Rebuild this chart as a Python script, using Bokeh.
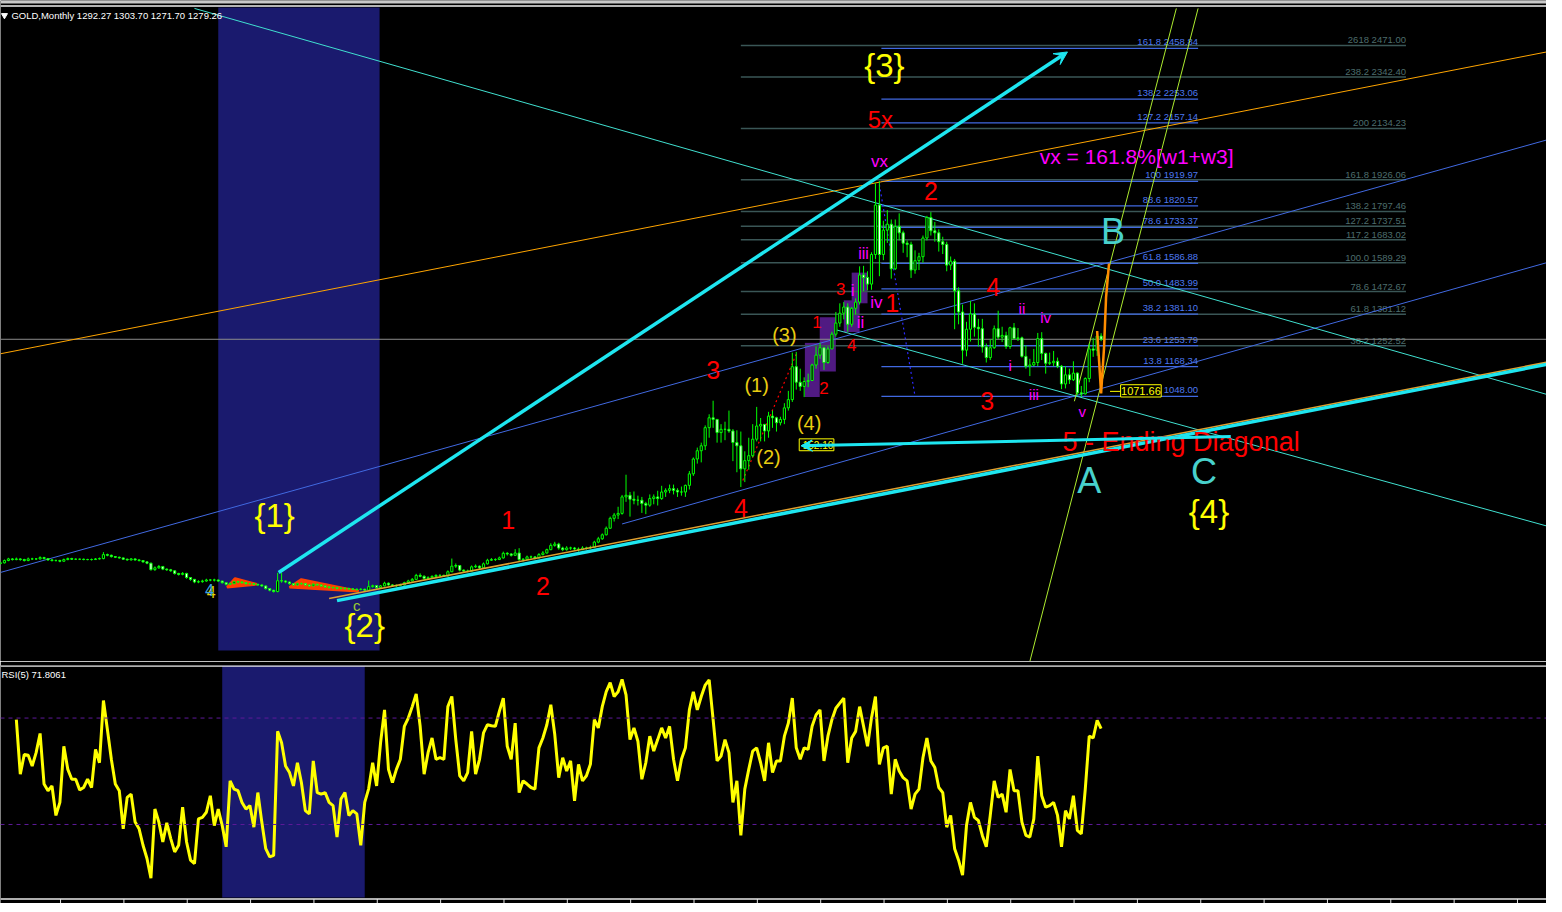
from bokeh.plotting import figure
from bokeh.models import Range1d, ColumnDataSource, Arrow, VeeHead, Span
from bokeh.layouts import column
from bokeh.embed import file_html
from bokeh.resources import INLINE
from bokeh.core.properties import value, field

# ---------------- data ----------------
first_open = 370.0
closes = [
    372.5, 381.9, 388.5, 385.9, 388.5, 385.9, 381.9, 388.5, 388.5, 388.5,
    393.9, 389.9, 384.5, 381.9, 381.9, 379.2, 385.9, 389.9, 387.2, 387.2,
    387.2, 385.9, 385.9, 385.9, 388.5, 389.9, 406.0, 403.3, 397.9, 395.2,
    392.6, 387.2, 384.5, 388.5, 384.5, 381.9, 376.5, 371.2, 345.0, 352.4,
    357.8, 347.1, 344.4, 340.4, 329.7, 325.7, 329.7, 313.0, 305.6, 294.9,
    296.2, 298.9, 302.9, 302.9, 302.9, 298.9, 292.2, 285.5, 288.2, 296.2,
    294.9, 292.2, 288.2, 288.2, 285.5, 282.9, 278.9, 268.2, 261.5, 256.1,
    300.0, 298.9, 294.9, 288.2, 282.9, 288.0, 288.2, 282.8, 278.8, 285.5,
    282.8, 278.8, 274.8, 272.1, 272.1, 269.5, 269.5, 268.1, 266.8, 265.5,
    264.1, 265.5, 261.5, 276.0, 280.0, 272.1, 279.0, 290.0, 283.0, 278.8,
    281.0, 282.8, 292.2, 298.9, 305.6, 321.7, 318.0, 309.6, 312.3, 317.6,
    321.7, 321.7, 319.0, 336.4, 359.1, 361.8, 343.1, 339.0, 339.0, 356.4,
    359.1, 352.4, 368.5, 383.2, 385.9, 385.9, 392.5, 411.3, 408.6, 403.2,
    412.6, 385.9, 387.2, 396.6, 396.6, 392.5, 405.9, 412.6, 426.0, 443.4,
    448.7, 432.7, 426.0, 432.7, 432.7, 428.7, 426.0, 432.7, 432.7, 435.3,
    456.7, 470.1, 486.2, 512.9, 553.1, 566.4, 573.1, 640.0, 646.6, 630.5,
    626.5, 626.5, 613.1, 606.4, 633.2, 639.9, 633.2, 659.9, 666.6, 673.3,
    666.6, 659.9, 659.9, 686.7, 733.5, 793.7, 827.2, 847.2, 920.8, 960.9,
    954.3, 900.8, 914.1, 914.1, 907.4, 860.6, 847.2, 753.6, 787.0, 807.1,
    874.0, 927.5, 934.2, 907.4, 967.6, 960.9, 940.9, 954.3, 1001.1, 1034.5,
    1168.0, 1105.0, 1088.0, 1108.0, 1112.0, 1175.0, 1215.0, 1245.0, 1185.0, 1240.0,
    1300.0, 1345.0, 1385.0, 1410.0, 1340.0, 1405.0, 1430.0, 1540.0, 1530.0, 1503.0,
    1623.0, 1823.7, 1623.1, 1722.0, 1746.0, 1565.0, 1737.0, 1711.0, 1669.0, 1664.0,
    1560.0, 1598.0, 1614.0, 1690.0, 1773.0, 1719.0, 1711.0, 1675.0, 1664.0, 1580.0,
    1596.0, 1476.0, 1390.0, 1235.0, 1320.0, 1382.0, 1328.0, 1322.0, 1248.0, 1205.0,
    1245.0, 1322.0, 1288.0, 1295.0, 1250.0, 1326.0, 1282.0, 1285.0, 1210.0, 1170.0,
    1175.0, 1185.0, 1282.0, 1222.0, 1182.0, 1184.0, 1190.0, 1170.0, 1098.0, 1135.0,
    1115.0, 1142.0, 1062.0, 1058.0, 1120.0, 1240.0, 1235.0, 1292.27, 1279.26,
]
highs = [
    378, 386, 393, 392, 394, 391, 389, 394, 393, 392,
    399, 397, 392, 388, 386, 385, 390, 394, 393, 391,
    390, 390, 389, 390, 392, 394, 416, 410, 406, 400,
    398, 394, 390, 392, 391, 387, 384, 378, 373, 358,
    364, 360, 350, 348, 342, 332, 335, 332, 315, 307,
    302, 304, 308, 307, 308, 305, 300, 294, 293, 300,
    300, 298, 294, 292, 291, 288, 285, 280, 270, 263,
    332, 332, 302, 297, 290, 292, 293, 290, 285, 290,
    288, 285, 281, 278, 276, 275, 273, 273, 272, 270,
    269, 270, 268, 301, 284, 282, 283, 296, 293, 286,
    285, 288, 296, 304, 311, 328, 330, 322, 318, 322,
    326, 326, 325, 342, 390, 370, 363, 346, 345, 362,
    366, 362, 374, 389, 392, 391, 398, 418, 416, 412,
    428, 432, 392, 402, 402, 400, 412, 420, 430, 452,
    458, 454, 438, 440, 438, 437, 435, 440, 438, 442,
    462, 478, 492, 520, 560, 575, 600, 648, 730, 660,
    662, 645, 640, 620, 650, 650, 665, 685, 675, 690,
    690, 675, 682, 690, 745, 800, 840, 860, 930, 975,
    1030, 955, 935, 945, 990, 915, 910, 905, 825, 880,
    935, 1005, 960, 930, 985, 990, 965, 965, 1020, 1070,
    1225, 1228, 1160, 1125, 1140, 1180, 1250, 1265, 1240, 1250,
    1310, 1390, 1425, 1430, 1425, 1410, 1445, 1575, 1577, 1555,
    1632, 1912, 1920.8, 1760, 1803, 1765, 1765, 1790, 1720, 1680,
    1675, 1640, 1630, 1700, 1780, 1795, 1755, 1725, 1695, 1675,
    1615, 1605, 1490, 1420, 1350, 1435, 1425, 1362, 1362, 1262,
    1280, 1335, 1395, 1330, 1310, 1330, 1345, 1325, 1290, 1255,
    1200, 1240, 1305, 1308, 1225, 1225, 1232, 1205, 1175, 1170,
    1160, 1190, 1145, 1090, 1125, 1262, 1285, 1305, 1303.7,
]
lows = [
    365, 370, 379, 382, 383, 381, 378, 379, 384, 384,
    386, 386, 381, 378, 378, 375, 377, 383, 384, 384,
    384, 383, 383, 382, 384, 386, 387, 399, 394, 392,
    389, 384, 381, 382, 381, 378, 373, 367, 341, 340,
    348, 343, 340, 336, 325, 321, 322, 308, 300, 290,
    290, 292, 296, 298, 297, 295, 288, 281, 283, 286,
    290, 288, 284, 284, 282, 279, 275, 264, 257, 252,
    253, 292, 290, 284, 279, 280, 284, 279, 275, 277,
    279, 275, 271, 268, 268, 265, 265, 264, 263, 262,
    260, 261, 256, 260, 272, 268, 270, 277, 280, 275,
    275, 278, 281, 290, 297, 304, 314, 305, 306, 310,
    315, 317, 315, 318, 335, 352, 338, 334, 334, 337,
    352, 347, 350, 366, 380, 380, 384, 390, 402, 398,
    400, 380, 378, 384, 390, 386, 390, 403, 410, 424,
    438, 426, 420, 422, 425, 424, 418, 424, 426, 428,
    432, 452, 466, 484, 510, 540, 550, 568, 620, 560,
    610, 605, 575, 570, 600, 610, 605, 628, 640, 655,
    650, 640, 645, 640, 670, 725, 775, 780, 830, 880,
    920, 860, 860, 870, 900, 785, 740, 680, 700, 750,
    800, 865, 865, 865, 880, 920, 905, 930, 935, 990,
    1025, 1075, 1070, 1045, 1085, 1110, 1160, 1200, 1155, 1180,
    1240, 1290, 1330, 1360, 1310, 1330, 1380, 1420, 1475, 1478,
    1480, 1605, 1535, 1600, 1670, 1525, 1560, 1680, 1630, 1612,
    1528, 1545, 1560, 1590, 1680, 1700, 1675, 1635, 1625, 1555,
    1560, 1320, 1340, 1180, 1210, 1270, 1290, 1250, 1225, 1185,
    1195, 1240, 1280, 1268, 1240, 1240, 1280, 1272, 1205, 1160,
    1130, 1170, 1170, 1195, 1140, 1175, 1170, 1162, 1077, 1080,
    1098, 1110, 1052, 1045, 1055, 1105, 1208, 1212, 1271.7,
]
NA = float("nan")
rsi5 = [NA, NA, NA, NA, 69.4,
    48.9, 56.3, 56.0, 52.0, 57.0, 64.2, 45.2, 42.7, 44.5, 33.4,
    38.3, 59.4, 50.7, 47.0, 47.0, 43.0, 43.9, 47.0, 43.9, 58.2,
    53.2, 76.6, 65.7, 54.5, 45.2, 42.7, 28.4, 40.2, 41.4, 30.9,
    28.4, 22.2, 17.2, 9.8, 35.8, 30.9, 23.4, 30.6, 24.7, 19.7,
    22.2, 36.5, 23.4, 16.6, 15.3, 32.1, 32.7, 34.6, 40.8, 29.6,
    35.8, 29.6, 21.6, 46.4, 43.3, 42.7, 38.3, 35.8, 37.1, 29.0,
    42.0, 30.9, 20.9, 17.8, 18.4, 65.0, 60.7, 52.0, 49.5, 44.5,
    53.2, 45.8, 35.2, 34.0, 53.9, 42.0, 41.4, 42.0, 38.3, 37.1,
    25.3, 39.6, 42.0, 33.4, 35.2, 34.0, 22.2, 38.3, 43.5, 53.2,
    44.5, 60.7, 73.1, 50.7, 45.8, 50.7, 54.5, 66.9, 70.0, 74.3,
    79.1, 66.9, 48.9, 57.0, 62.5, 54.5, 55.1, 54.5, 74.3, 78.1,
    61.9, 48.3, 46.4, 49.5, 65.0, 48.9, 54.5, 64.4, 67.5, 67.1,
    66.9, 72.5, 77.5, 59.4, 54.5, 68.1, 42.0, 46.4, 45.2, 43.9,
    43.3, 58.8, 62.5, 67.5, 75.0, 63.8, 47.6, 55.1, 50.1, 53.9,
    38.9, 52.6, 46.4, 48.3, 52.6, 69.4, 66.3, 74.3, 79.9, 83.3,
    78.1, 79.9, 84.5, 78.7, 61.9, 66.3, 61.3, 47.0, 53.2, 63.2,
    57.6, 61.9, 66.3, 62.5, 66.9, 54.5, 46.4, 54.5, 58.8, 73.1,
    79.9, 73.1, 78.1, 82.4, 84.3, 69.4, 53.9, 55.7, 61.9, 57.0,
    38.3, 46.4, 25.9, 43.3, 50.7, 57.6, 58.8, 53.2, 46.4, 60.7,
    49.5, 53.9, 53.9, 63.2, 68.1, 77.5, 58.8, 54.5, 58.8, 58.2,
    66.9, 71.2, 73.1, 53.9, 63.2, 69.4, 73.7, 75.6, 77.5, 53.2,
    62.5, 65.0, 74.3, 66.9, 59.4, 70.0, 78.1, 52.6, 58.8, 59.4,
    41.4, 54.5, 50.1, 47.6, 46.4, 35.8, 41.4, 43.3, 55.1, 62.5,
    53.9, 51.4, 43.9, 42.0, 29.0, 33.4, 20.9, 16.6, 11.0, 29.6,
    38.3, 32.7, 31.5, 25.9, 21.6, 33.4, 46.4, 40.2, 41.4, 34.6,
    50.7, 42.7, 42.7, 30.9, 25.9, 25.3, 32.1, 55.7, 40.8, 36.5,
    37.1, 38.3, 33.4, 21.6, 35.2, 32.1, 40.8, 27.8, 26.5, 43.3,
    63.2, 62.5, 69.1, 66.0,
]
rsi_levels = [70, 30]

fib_a_pct = ["161.8", "138.2", "127.2", "100", "88.6", "78.6", "61.8", "50.0",
             "38.2", "23.6", "13.8", "0.0"]
fib_a_price = [2458.84, 2253.06, 2157.14, 1919.97, 1820.57, 1733.37, 1586.88,
               1483.99, 1381.10, 1253.79, 1168.34, 1048.00]
fib_b_pct = ["2618", "238.2", "200", "161.8", "138.2", "127.2", "117.2", "100.0",
             "78.6", "61.8", "38.2"]
fib_b_price = [2471.00, 2342.40, 2134.23, 1926.06, 1797.46, 1737.51, 1683.02,
               1589.29, 1472.67, 1381.12, 1252.52]
ohlc_now = [1292.27, 1303.70, 1271.70, 1279.26]
rsi_now = 71.8061
low_mark = 1071.66
arrow_mark = 152.10

# ---------------- helpers (reference pixel -> data) ----------------
def bx(px):
    return px / 4.0

def pr(py):
    return 1919.97 - (py - 182.7) * 4.013

def rv(py):
    return 70.0 - (py - 725.0) / 2.683

FONT = value("Liberation Sans")
CYAN = "#1EE6F0"
TURQ = "#40E0D0"
BLUE = "#4169E1"
GRAYF = "#3A5656"
NAVY = "#1A1A6E"
LIME = "#00FF00"
RED = "#FF0000"
MAG = "#FF00FF"
YEL = "#FFFF00"
GOLDY = "#E8CC10"
TEAL = "#48D1CC"

N = len(closes)
idx = list(range(N))
opens = [first_open] + closes[:-1]
hi = [max(h, o, c) for h, o, c in zip(highs, opens, closes)]
lo = [min(l, o, c) for l, o, c in zip(lows, opens, closes)]
body_top = [max(o, c) for o, c in zip(opens, closes)]
body_bot = [min(o, c) for o, c in zip(opens, closes)]
body_fill = ["black" if c >= o else "white" for o, c in zip(opens, closes)]

W = 1546
H_MAIN = 661
H_RSI = 242
xr = Range1d(bx(0), bx(1562))

p = figure(width=W, height=H_MAIN, x_range=xr, y_range=Range1d(pr(668), pr(0)),
           output_backend="svg", toolbar_location=None,
           x_axis_location=None, y_axis_location=None,
           background_fill_color="black", border_fill_color="black",
           outline_line_color=None, min_border=0)
p.grid.visible = False

# terminal toolbar remnant at the very top
p.quad(left=[bx(0)], right=[bx(1562)], top=[pr(0)], bottom=[pr(3)],
       fill_color="#C8C8C8", line_color=None)
p.line([bx(0), bx(1562)], [pr(5.6), pr(5.6)], line_color="#F0F0F0", line_width=1.5)

# shaded period
p.quad(left=[bx(220)], right=[bx(383)], bottom=[pr(657)], top=[pr(7)],
       fill_color=NAVY, line_color=None)

# purple boxes
pb = [(812.7, 346, 827.7, 400.7), (827.7, 320, 844, 375),
      (852, 303, 868, 335), (860, 275, 876, 306)]
p.quad(left=[bx(b[0]) for b in pb], right=[bx(b[2]) for b in pb],
       top=[pr(b[1]) for b in pb], bottom=[pr(b[3]) for b in pb],
       fill_color="#501A82", line_color=None)

# red-orange wedges
tri = [[(229, 593), (237, 584), (259, 590)], [(292, 593), (304, 585), (362, 597)]]
p.patches(xs=[[bx(a) for a, b in t] for t in tri], ys=[[pr(b) for a, b in t] for t in tri],
          fill_color="#FF4000", line_color="#FF4000", line_width=2.5)

# fib set B (gray)
p.segment(x0=[bx(748)] * len(fib_b_price), x1=[bx(1420)] * len(fib_b_price),
          y0=fib_b_price, y1=fib_b_price, line_color=GRAYF, line_width=1.5)
p.text(x=[bx(1420)] * len(fib_b_price), y=fib_b_price,
       text=[f"{a} {b:.2f}" for a, b in zip(fib_b_pct, fib_b_price)],
       text_color="#4D6D6D", text_font=FONT, text_font_size="9.5px",
       text_align="right", text_baseline="bottom", y_offset=0)
# fib set A (blue)
p.segment(x0=[bx(890)] * len(fib_a_price), x1=[bx(1210)] * len(fib_a_price),
          y0=fib_a_price, y1=fib_a_price, line_color=BLUE, line_width=1.2)
p.text(x=[bx(1210)] * len(fib_a_price), y=fib_a_price,
       text=[f"{a} {b:.2f}" for a, b in zip(fib_a_pct, fib_a_price)],
       text_color="#4C78F0", text_font=FONT, text_font_size="9.5px",
       text_align="right", text_baseline="bottom", y_offset=-1)

# bid line
p.line([bx(0), bx(1562)], [ohlc_now[3], ohlc_now[3]], line_color="#8C8C8C", line_width=1)

# thin trend lines
def seg(a, b, color, w=1.0, dash="solid", alpha=1.0):
    p.line([bx(a[0]), bx(b[0])], [pr(a[1]), pr(b[1])], line_color=color,
           line_width=w, line_dash=dash, line_alpha=alpha)

seg((0, 357), (1562, 52), "#FFA500")
seg((0, 578), (1562, 141), BLUE)
seg((628, 529), (1562, 265), BLUE)
seg((196, 8), (1562, 398), TURQ)
seg((845, 333), (1562, 531), TURQ)
seg((1085, 405), (1188, 8), "#ADEB2F", 1.0)
seg((1040, 668), (1210, 8), "#ADEB2F", 1.0)
seg((750, 485), (805, 355), RED, 1.2, "2 3")
seg((888, 186), (924, 400), "#2B2BFF", 1.2, "2 3")

# candles
p.segment(x0=idx, x1=idx, y0=lo, y1=hi, line_color=LIME, line_width=1)
p.vbar(x=idx, width=0.55, top=body_top, bottom=body_bot, fill_color=body_fill,
       line_color=LIME, line_width=1)

# orange projection
proj = [(1108, 334), (1110, 365), (1112, 397), (1115, 350), (1117, 300), (1120, 266)]
p.line([bx(a) for a, b in proj], [pr(b) for a, b in proj], line_color="#FF8C00", line_width=2.5)

# thick cyan lines
seg((332, 604.3), (1562, 365.6), "#E0A030", 1.5)
seg((340, 606.5), (1562, 367.8), CYAN, 3.5)
p.add_layout(Arrow(end=VeeHead(size=13, line_color=CYAN, fill_color=CYAN),
                   x_start=bx(281), y_start=pr(578), x_end=bx(1078), y_end=pr(52),
                   line_color=CYAN, line_width=3.5))
p.add_layout(Arrow(end=VeeHead(size=11, line_color=CYAN, fill_color=CYAN),
                   x_start=bx(1243), y_start=pr(440.7), x_end=bx(809), y_end=pr(450),
                   line_color=CYAN, line_width=3))

# price boxes
p.line([bx(1121), bx(1131.7)], [pr(395), pr(395)], line_color=YEL, line_width=1)
p.quad(left=[bx(1131.7)], right=[bx(1172.7)], top=[pr(388.3)], bottom=[pr(400.7)],
       fill_color="black", line_color=YEL, line_width=1)
p.text(x=[bx(1152.2)], y=[pr(394.8)], text=[f"{low_mark:.2f}"], text_color=YEL,
       text_font=FONT, text_font_size="11px", text_align="center", text_baseline="middle")
p.quad(left=[bx(807)], right=[bx(842)], top=[pr(443)], bottom=[pr(455)],
       fill_color="black", line_color=YEL, line_width=1)
p.text(x=[bx(826)], y=[pr(449)], text=[f"{arrow_mark:.2f}"], text_color=YEL,
       text_font=FONT, text_font_size="10px", text_align="center", text_baseline="middle")
p.add_layout(Arrow(end=VeeHead(size=11, line_color=CYAN, fill_color=CYAN),
                   x_start=bx(830), y_start=pr(449.5), x_end=bx(809), y_end=pr(450),
                   line_color=CYAN, line_width=3))

# wave labels
labels = [
    ("{3}", 893, 66, YEL, "33px"), ("5x", 889, 120, RED, "24px"), ("vx", 888, 163, MAG, "17px"),
    ("2", 940, 193, RED, "25px"), ("B", 1124, 233, TEAL, "36px"), ("iii", 872, 256, MAG, "16px"),
    ("3", 849, 292, RED, "17px"), ("i", 861, 293, MAG, "17px"), ("iv", 885, 305, MAG, "17px"),
    ("1", 901, 306, RED, "25px"), ("1", 825, 325, RED, "17px"), ("ii", 869, 325, MAG, "17px"),
    ("(3)", 792, 338, GOLDY, "20px"), ("4", 860, 348, RED, "17px"), ("4", 1003, 290, RED, "25px"),
    ("ii", 1032, 311, MAG, "15px"), ("iv", 1056, 320, MAG, "15px"), ("3", 720, 373, RED, "25px"),
    ("(1)", 764, 389, GOLDY, "20px"), ("2", 832, 392, RED, "17px"), ("i", 1020, 369, MAG, "15px"),
    ("3", 997, 405, RED, "25px"), ("iii", 1044, 398, MAG, "15px"), ("v", 1093, 415, MAG, "15px"),
    ("(4)", 817, 427, GOLDY, "20px"), ("(2)", 776, 461, GOLDY, "20px"),
    ("A", 1100, 485, TEAL, "36px"), ("C", 1216, 476, TEAL, "36px"), ("{4}", 1221, 516, YEL, "33px"),
    ("4", 748, 513, RED, "25px"), ("{1}", 277, 520, YEL, "33px"), ("1", 513, 525, RED, "25px"),
    ("2", 548, 592, RED, "25px"), ("{2}", 368, 632, YEL, "33px"), ("c", 360, 611, "#9ACD32", "15px"),
    ("4", 213, 598, "#E8D000", "16px"), ("4", 211, 596, "#3AA0E8", "16px"),
]
src = ColumnDataSource(dict(x=[bx(l[1]) for l in labels], y=[pr(l[2]) for l in labels],
                            text=[l[0] for l in labels], color=[l[3] for l in labels],
                            size=[l[4] for l in labels]))
p.text(x="x", y="y", text="text", text_color="color", text_font_size=field("size"),
       text_font=FONT, text_align="center", text_baseline="middle", source=src)

left_labels = [("5 - Ending Diagonal", 1073, 446, RED, "27px"),
               ("vx = 161.8%[w1+w3]", 1050, 158, MAG, "21px")]
src2 = ColumnDataSource(dict(x=[bx(l[1]) for l in left_labels], y=[pr(l[2]) for l in left_labels],
                             text=[l[0] for l in left_labels], color=[l[3] for l in left_labels],
                             size=[l[4] for l in left_labels]))
p.text(x="x", y="y", text="text", text_color="color", text_font_size=field("size"),
       text_font=FONT, text_align="left", text_baseline="middle", source=src2)

# header
p.scatter([bx(4)], [pr(15)], marker="inverted_triangle", size=6, fill_color="white",
          line_color="white")
p.text(x=[bx(11)], y=[pr(15.5)],
       text=["GOLD,Monthly  " + " ".join(f"{v:.2f}" for v in ohlc_now)],
       text_color="white", text_font=FONT, text_font_size="9.5px",
       text_align="left", text_baseline="middle")

# ---------------- RSI panel ----------------
p2 = figure(width=W, height=H_RSI, x_range=xr, y_range=Range1d(rv(912), rv(672)),
            output_backend="svg", toolbar_location=None,
            x_axis_location=None, y_axis_location=None,
            background_fill_color="black", border_fill_color="black",
            outline_line_color=None, min_border=0, min_border_top=4)
p2.grid.visible = False
p2.quad(left=[bx(224)], right=[bx(368)], bottom=[rv(906)], top=[rv(672)],
        fill_color=NAVY, line_color=None)
for lv in rsi_levels:
    p2.add_layout(Span(location=lv, dimension="width", line_color="#5E1A9A",
                       line_width=1, line_dash="4 4"))
p2.line(idx, rsi5, line_color=YEL, line_width=3)
p2.add_layout(Span(location=rv(672.6), dimension="width", line_color="#E8E8E8", line_width=1.5))
p2.add_layout(Span(location=rv(907.5), dimension="width", line_color="#E8E8E8", line_width=1.5))
ticks = [15.17 + 16 * k for k in range(25)]
p2.segment(x0=ticks, x1=ticks, y0=[rv(907.5)] * len(ticks), y1=[rv(912)] * len(ticks),
           line_color="#E8E8E8", line_width=1)
p2.text(x=[bx(1)], y=[rv(681)], text=[f"RSI(5) {rsi_now:.4f}"], text_color="white",
        text_font=FONT, text_font_size="9.5px", text_align="left", text_baseline="middle")

layout = column(p, p2, spacing=0)
open("out.html", "w").write(file_html(layout, INLINE))
